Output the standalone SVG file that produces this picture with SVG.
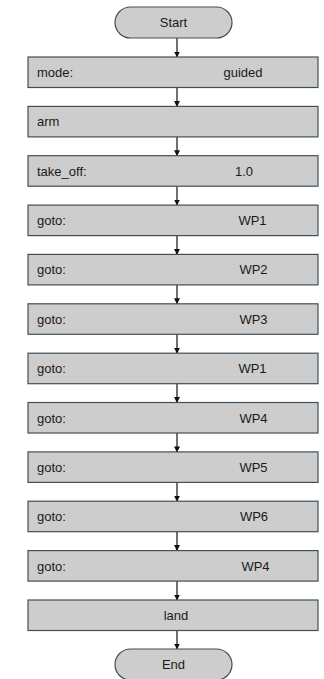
<svg xmlns="http://www.w3.org/2000/svg" width="324" height="679" viewBox="0 0 324 679">
<style>
.box{fill:#cdcdcd;stroke:#3e505c;stroke-width:1.2}
.t{font-family:"Liberation Sans",Arial,sans-serif;font-size:13px;fill:#1a1a1a;dominant-baseline:central}
.m{text-anchor:middle}
.ln{stroke:#111;stroke-width:1.2;fill:none}
</style>
<defs>
<marker id="ah" markerWidth="6" markerHeight="6" refX="5.5" refY="3" orient="auto" markerUnits="userSpaceOnUse">
<path d="M0,0 L6,3 L0,6 Z" fill="#111"/>
</marker>
</defs>
<rect width="324" height="679" fill="#ffffff"/>
<g id="connectors">
<line class="ln" x1="177" y1="38" x2="177" y2="57" marker-end="url(#ah)"/>
<line class="ln" x1="177" y1="87.5" x2="177" y2="106.4" marker-end="url(#ah)"/>
<line class="ln" x1="177" y1="136.9" x2="177" y2="155.7" marker-end="url(#ah)"/>
<line class="ln" x1="177" y1="186.2" x2="177" y2="205.1" marker-end="url(#ah)"/>
<line class="ln" x1="177" y1="235.6" x2="177" y2="254.4" marker-end="url(#ah)"/>
<line class="ln" x1="177" y1="284.9" x2="177" y2="303.8" marker-end="url(#ah)"/>
<line class="ln" x1="177" y1="334.3" x2="177" y2="353.2" marker-end="url(#ah)"/>
<line class="ln" x1="177" y1="383.7" x2="177" y2="402.5" marker-end="url(#ah)"/>
<line class="ln" x1="177" y1="433" x2="177" y2="451.9" marker-end="url(#ah)"/>
<line class="ln" x1="177" y1="482.4" x2="177" y2="501.2" marker-end="url(#ah)"/>
<line class="ln" x1="177" y1="531.7" x2="177" y2="550.6" marker-end="url(#ah)"/>
<line class="ln" x1="177" y1="581.1" x2="177" y2="600" marker-end="url(#ah)"/>
<line class="ln" x1="177" y1="630.5" x2="177" y2="649" marker-end="url(#ah)"/>
</g>
<g id="start">
<rect class="box" x="115" y="7" width="117" height="31" rx="15.5"/>
<text class="t m" x="173.5" y="22.5">Start</text>
</g>
<g id="n1">
<rect class="box" x="28" y="57" width="290" height="30.5"/>
<text class="t" x="37" y="72.5">mode:</text>
<text class="t m" x="243" y="72.5">guided</text>
</g>
<g id="n2">
<rect class="box" x="28" y="106.4" width="290" height="30.5"/>
<text class="t" x="37" y="121.9">arm</text>
</g>
<g id="n3">
<rect class="box" x="28" y="155.7" width="290" height="30.5"/>
<text class="t" x="37" y="171.2">take_off:</text>
<text class="t m" x="244" y="171.2">1.0</text>
</g>
<g id="n4">
<rect class="box" x="28" y="205.1" width="290" height="30.5"/>
<text class="t" x="37" y="220.6">goto:</text>
<text class="t m" x="252.5" y="220.6">WP1</text>
</g>
<g id="n5">
<rect class="box" x="28" y="254.4" width="290" height="30.5"/>
<text class="t" x="37" y="269.9">goto:</text>
<text class="t m" x="253.5" y="269.9">WP2</text>
</g>
<g id="n6">
<rect class="box" x="28" y="303.8" width="290" height="30.5"/>
<text class="t" x="37" y="319.3">goto:</text>
<text class="t m" x="253.5" y="319.3">WP3</text>
</g>
<g id="n7">
<rect class="box" x="28" y="353.2" width="290" height="30.5"/>
<text class="t" x="37" y="368.7">goto:</text>
<text class="t m" x="252.5" y="368.7">WP1</text>
</g>
<g id="n8">
<rect class="box" x="28" y="402.5" width="290" height="30.5"/>
<text class="t" x="37" y="418">goto:</text>
<text class="t m" x="253.5" y="418">WP4</text>
</g>
<g id="n9">
<rect class="box" x="28" y="451.9" width="290" height="30.5"/>
<text class="t" x="37" y="467.4">goto:</text>
<text class="t m" x="253.5" y="467.4">WP5</text>
</g>
<g id="n10">
<rect class="box" x="28" y="501.2" width="290" height="30.5"/>
<text class="t" x="37" y="516.7">goto:</text>
<text class="t m" x="254" y="516.7">WP6</text>
</g>
<g id="n11">
<rect class="box" x="28" y="550.6" width="290" height="30.5"/>
<text class="t" x="37" y="566.1">goto:</text>
<text class="t m" x="255.5" y="566.1">WP4</text>
</g>
<g id="n12">
<rect class="box" x="28" y="600" width="290" height="30.5"/>
<text class="t m" x="176" y="615.5">land</text>
</g>
<g id="end">
<rect class="box" x="115" y="649" width="117" height="31" rx="15.5"/>
<text class="t m" x="173.5" y="664.5">End</text>
</g>
</svg>
